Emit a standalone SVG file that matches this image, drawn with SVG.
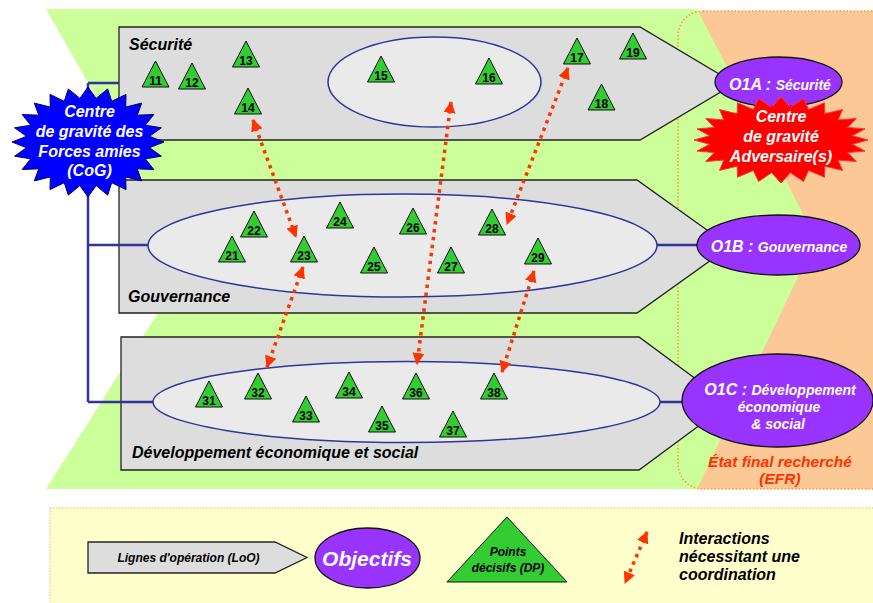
<svg xmlns="http://www.w3.org/2000/svg" width="873" height="603" viewBox="0 0 873 603">
<defs>
<style>
text{font-family:"Liberation Sans",Arial,sans-serif;font-weight:bold;font-style:italic}
.loo{fill:#DDDDDD;stroke:#222;stroke-width:1.3}
.inner{fill:#EAEAEA;stroke:#333399;stroke-width:1.5}
.obj{fill:#9933FF;stroke:#111;stroke-width:1.3}
.tri{fill:#33CC33;stroke:#111;stroke-width:1}
.num{font-size:12px;font-style:normal;fill:#000;text-anchor:middle}
.lbl{font-size:16px;fill:#000}
.wt{fill:#fff;text-anchor:middle}
.nav{stroke:#333399;stroke-width:2.5;fill:none}
.dot{stroke:#FF3300;stroke-width:3.5;stroke-dasharray:3.5 4.5;fill:none;marker-start:url(#ah);marker-end:url(#ah)}
</style>
<marker id="ah" viewBox="0 0 12 12" refX="11" refY="6" markerWidth="12" markerHeight="12" markerUnits="userSpaceOnUse" orient="auto-start-reverse">
<path d="M0,0 L12,6 L0,12 z" fill="#FF3300"/>
</marker>
</defs>

<g id="background">
<rect x="678" y="11" width="220" height="478" rx="25" fill="#FCC896"/>
<polygon points="46,9 697,9 816,239 697,489 46,489 190,262" fill="#CCFF99"/>
<rect x="678" y="11" width="220" height="478" rx="25" fill="none" stroke="#FF9933" stroke-width="1.5" stroke-dasharray="1.5 2"/>
<rect x="50" y="508" width="840" height="110" fill="#FFFFCC" stroke="#FFB366" stroke-width="1" stroke-dasharray="1.5 1.5"/>
</g>

<g id="loo-securite">
<polygon class="loo" points="119,27 640,27 735,83.5 640,140 119,140"/>
<ellipse class="inner" cx="434.5" cy="82" rx="106.5" ry="45"/>
<text class="lbl" x="129" y="50">Sécurité</text>
</g>
<g id="loo-gouvernance">
<polygon class="loo" points="119,180 637,180 730,246.5 637,313 119,313"/>
<ellipse class="inner" cx="402.5" cy="245.5" rx="254.5" ry="51.5"/>
<text class="lbl" x="128" y="302">Gouvernance</text>
</g>
<g id="loo-developpement">
<polygon class="loo" points="121,337 639,337 729,403.5 639,470 121,470"/>
<ellipse class="inner" cx="406.5" cy="402" rx="253.5" ry="40.5"/>
<text class="lbl" x="132" y="458">Développement économique et social</text>
</g>

<g id="connectors">
<path class="nav" d="M88,83 V402 M88,83 H119 M88,245 H148 M88,402 H153 M657,245 H697 M660,402 H683"/>
<line class="dot" x1="253" y1="120" x2="296" y2="237"/>
<line class="dot" x1="303" y1="267" x2="267" y2="367"/>
<line class="dot" x1="451" y1="102" x2="417" y2="364"/>
<line class="dot" x1="568" y1="68" x2="507" y2="224"/>
<line class="dot" x1="534" y1="271" x2="502" y2="372"/>
</g>

<g id="dp11" transform="translate(155.5,87)"><polygon class="tri" points="-13.5,0 0,-26 13.5,0"/><text class="num" y="-2">11</text></g>
<g id="dp12" transform="translate(192,89)"><polygon class="tri" points="-13.5,0 0,-26 13.5,0"/><text class="num" y="-2">12</text></g>
<g id="dp13" transform="translate(246,67)"><polygon class="tri" points="-13.5,0 0,-26 13.5,0"/><text class="num" y="-2">13</text></g>
<g id="dp14" transform="translate(248,114)"><polygon class="tri" points="-13.5,0 0,-26 13.5,0"/><text class="num" y="-2">14</text></g>
<g id="dp15" transform="translate(381,82)"><polygon class="tri" points="-13.5,0 0,-26 13.5,0"/><text class="num" y="-2">15</text></g>
<g id="dp16" transform="translate(489,84)"><polygon class="tri" points="-13.5,0 0,-26 13.5,0"/><text class="num" y="-2">16</text></g>
<g id="dp17" transform="translate(577,64)"><polygon class="tri" points="-13.5,0 0,-26 13.5,0"/><text class="num" y="-2">17</text></g>
<g id="dp18" transform="translate(601.5,110)"><polygon class="tri" points="-13.5,0 0,-26 13.5,0"/><text class="num" y="-2">18</text></g>
<g id="dp19" transform="translate(633,59)"><polygon class="tri" points="-13.5,0 0,-26 13.5,0"/><text class="num" y="-2">19</text></g>
<g id="dp21" transform="translate(232,262)"><polygon class="tri" points="-13.5,0 0,-26 13.5,0"/><text class="num" y="-2">21</text></g>
<g id="dp22" transform="translate(254,237)"><polygon class="tri" points="-13.5,0 0,-26 13.5,0"/><text class="num" y="-2">22</text></g>
<g id="dp23" transform="translate(304,262)"><polygon class="tri" points="-13.5,0 0,-26 13.5,0"/><text class="num" y="-2">23</text></g>
<g id="dp24" transform="translate(340,228)"><polygon class="tri" points="-13.5,0 0,-26 13.5,0"/><text class="num" y="-2">24</text></g>
<g id="dp25" transform="translate(374,273)"><polygon class="tri" points="-13.5,0 0,-26 13.5,0"/><text class="num" y="-2">25</text></g>
<g id="dp26" transform="translate(413,234)"><polygon class="tri" points="-13.5,0 0,-26 13.5,0"/><text class="num" y="-2">26</text></g>
<g id="dp27" transform="translate(451,273)"><polygon class="tri" points="-13.5,0 0,-26 13.5,0"/><text class="num" y="-2">27</text></g>
<g id="dp28" transform="translate(492,235)"><polygon class="tri" points="-13.5,0 0,-26 13.5,0"/><text class="num" y="-2">28</text></g>
<g id="dp29" transform="translate(538,264)"><polygon class="tri" points="-13.5,0 0,-26 13.5,0"/><text class="num" y="-2">29</text></g>
<g id="dp31" transform="translate(209,407)"><polygon class="tri" points="-13.5,0 0,-26 13.5,0"/><text class="num" y="-2">31</text></g>
<g id="dp32" transform="translate(258,399)"><polygon class="tri" points="-13.5,0 0,-26 13.5,0"/><text class="num" y="-2">32</text></g>
<g id="dp33" transform="translate(306,422)"><polygon class="tri" points="-13.5,0 0,-26 13.5,0"/><text class="num" y="-2">33</text></g>
<g id="dp34" transform="translate(349,398)"><polygon class="tri" points="-13.5,0 0,-26 13.5,0"/><text class="num" y="-2">34</text></g>
<g id="dp35" transform="translate(382,432)"><polygon class="tri" points="-13.5,0 0,-26 13.5,0"/><text class="num" y="-2">35</text></g>
<g id="dp36" transform="translate(416,399)"><polygon class="tri" points="-13.5,0 0,-26 13.5,0"/><text class="num" y="-2">36</text></g>
<g id="dp37" transform="translate(453,437)"><polygon class="tri" points="-13.5,0 0,-26 13.5,0"/><text class="num" y="-2">37</text></g>
<g id="dp38" transform="translate(494,399)"><polygon class="tri" points="-13.5,0 0,-26 13.5,0"/><text class="num" y="-2">38</text></g>

<g id="o1a">
<ellipse class="obj" cx="778.5" cy="82" rx="63.5" ry="25"/>
<text class="wt" x="780" y="90"><tspan font-size="16">O1A : </tspan><tspan font-size="14">Sécurité</tspan></text>
</g>
<g id="o1b">
<ellipse class="obj" cx="778.5" cy="245" rx="81.5" ry="30"/>
<text class="wt" x="779" y="252"><tspan font-size="16">O1B : </tspan><tspan font-size="14">Gouvernance</tspan></text>
</g>
<g id="o1c">
<ellipse class="obj" cx="777.5" cy="400.5" rx="95.5" ry="46.5"/>
<text class="wt" x="780" y="395"><tspan font-size="16">O1C : </tspan><tspan font-size="14">Développement</tspan></text>
<text class="wt" x="779" y="412" font-size="14">économique</text>
<text class="wt" x="778" y="429" font-size="14">&amp; social</text>
</g>

<g id="cog-adversaire">
<polygon fill="#FF0000" stroke="#FF3333" stroke-width="1" points="868,140 852.4,144.3 865,151.1 847.5,152.6 856.3,161.5 838.1,160.1 842.5,170.4 824.8,166.2 824.5,177.2 808.6,170.5 803.5,181.5 790.4,172.7 781,183 771.6,172.7 758.5,181.5 753.4,170.5 737.5,177.2 737.2,166.2 719.5,170.4 723.9,160.1 705.7,161.5 714.5,152.6 697,151.1 709.6,144.3 694,140 709.6,135.7 697,128.9 714.5,127.4 705.7,118.5 723.9,119.9 719.5,109.6 737.2,113.8 737.5,102.8 753.4,109.5 758.5,98.5 771.6,107.3 781,97 790.4,107.3 803.5,98.5 808.6,109.5 824.5,102.8 824.8,113.8 842.5,109.6 838.1,119.9 856.3,118.5 847.5,127.4 865,128.9 852.4,135.7"/>
<text class="wt" font-size="16" x="781" y="122">Centre</text>
<text class="wt" font-size="16" x="781" y="142">de gravité</text>
<text class="wt" font-size="16" x="781" y="162">Adversaire(s)</text>
</g>

<g id="cog-amies">
<polygon fill="#0000FF" stroke="#000066" stroke-width="1" points="164,142 149.5,147.7 161.4,156.2 145.3,158.8 153.8,169.5 137.2,168.8 141.7,180.9 125.7,176.9 126,189.6 111.7,182.7 107.7,195.1 96.1,185.6 88,197 79.9,185.6 68.3,195.1 64.3,182.7 50,189.6 50.3,176.9 34.3,180.9 38.8,168.8 22.2,169.5 30.7,158.8 14.6,156.2 26.5,147.7 12,142 26.5,136.3 14.6,127.8 30.7,125.2 22.2,114.5 38.8,115.2 34.3,103.1 50.3,107.1 50,94.4 64.3,101.3 68.3,88.9 79.9,98.4 88,87 96.1,98.4 107.7,88.9 111.7,101.3 126,94.4 125.7,107.1 141.7,103.1 137.2,115.2 153.8,114.5 145.3,125.2 161.4,127.8 149.5,136.3"/>
<text class="wt" font-size="16" x="89.5" y="117">Centre</text>
<text class="wt" font-size="16" x="89.5" y="137">de gravité des</text>
<text class="wt" font-size="16" x="89.5" y="157">Forces amies</text>
<text class="wt" font-size="16" x="89.5" y="176">(CoG)</text>
</g>

<g id="efr">
<text font-size="15.5" fill="#FF3300" text-anchor="middle" x="780" y="467">État final recherché</text>
<text font-size="15.5" fill="#FF3300" text-anchor="middle" x="780" y="484">(EFR)</text>
</g>

<g id="legend">
<polygon class="loo" points="88,542 275,542 307,557.5 275,573 88,573"/>
<text font-size="12" fill="#000" text-anchor="middle" x="188.5" y="562">Lignes d'opération (LoO)</text>
<ellipse class="obj" cx="367.5" cy="558" rx="52.5" ry="30"/>
<text class="wt" font-size="21" x="367" y="566">Objectifs</text>
<polygon class="tri" points="447,582 507,517 567,582"/>
<text font-size="12" fill="#000" text-anchor="middle" x="508" y="556">Points</text>
<text font-size="12" fill="#000" text-anchor="middle" x="508" y="572">décisifs (DP)</text>
<line class="dot" x1="647" y1="532" x2="625" y2="583"/>
<text font-size="16" fill="#000" x="679" y="544">Interactions</text>
<text font-size="16" fill="#000" x="679" y="562">nécessitant une</text>
<text font-size="16" fill="#000" x="679" y="580">coordination</text>
</g>
</svg>
